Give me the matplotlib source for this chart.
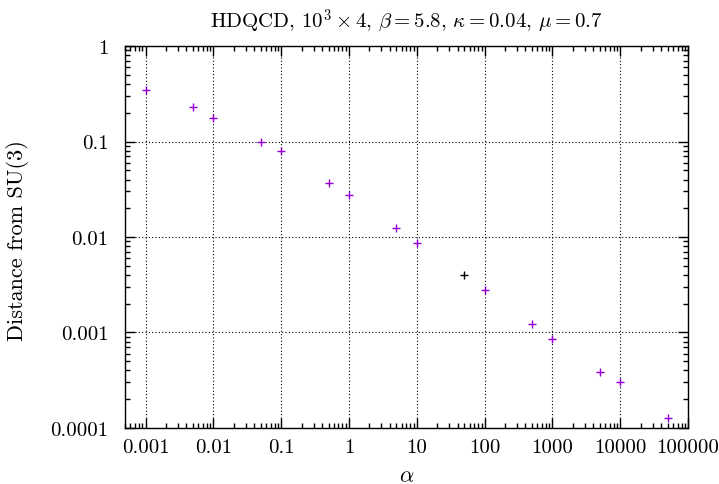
import matplotlib
matplotlib.use("Agg")
import matplotlib.pyplot as plt
import numpy as np

# data
alpha = [0.001, 0.005, 0.01, 0.05, 0.1, 0.5, 1, 5, 10, 50, 100, 500, 1000, 5000, 10000, 50000]
dist = [0.35, 0.23, 0.176, 0.099, 0.08, 0.0366, 0.0277, 0.0125, 0.0087, 0.004,
        0.00281, 0.00124, 0.00086, 0.00039, 0.0003, 0.000128]
colors = ['#9400d3'] * 9 + ['black'] + ['#9400d3'] * 6

xticks = [0.001, 0.01, 0.1, 1, 10, 100, 1000, 10000, 100000]
xlabels = ['0.001', '0.01', '0.1', '1', '10', '100', '1000', '10000', '100000']
yticks = [0.0001, 0.001, 0.01, 0.1, 1]
ylabels = ['0.0001', '0.001', '0.01', '0.1', '1']

plt.rcParams['font.family'] = 'serif'
plt.rcParams['font.serif'] = ['cmr10']
plt.rcParams['mathtext.fontset'] = 'cm'
plt.rcParams['axes.unicode_minus'] = False
plt.rcParams['axes.formatter.use_mathtext'] = True

fig = plt.figure(figsize=(7.19, 4.85), dpi=100)
ax = fig.add_axes([0.174, 0.1155, 0.783, 0.7875])

for x, y, c in zip(alpha, dist, colors):
    ax.plot(x, y, marker='+', color=c, markersize=6, mew=1, linestyle='none')

ax.set_xscale('log')
ax.set_yscale('log')
ax.set_xlim(0.0005, 100000)
ax.set_ylim(0.0001, 1)
ax.set_xticks(xticks)
ax.set_xticklabels(xlabels)
ax.set_yticks(yticks)
ax.set_yticklabels(ylabels)
ax.xaxis.set_minor_locator(matplotlib.ticker.LogLocator(base=10, subs=np.arange(2, 10), numticks=20))
ax.yaxis.set_minor_locator(matplotlib.ticker.LogLocator(base=10, subs=np.arange(2, 10), numticks=20))
ax.xaxis.set_minor_formatter(matplotlib.ticker.NullFormatter())
ax.yaxis.set_minor_formatter(matplotlib.ticker.NullFormatter())

ax.tick_params(which='both', direction='in', top=True, right=True, labelsize=15, width=1)
ax.tick_params(which='major', length=7)
ax.tick_params(which='major', axis='x', pad=7)
ax.tick_params(which='major', axis='y', pad=12)
ax.tick_params(which='minor', length=3.5)
for s in ax.spines.values():
    s.set_linewidth(1)

ax.grid(True, which='major', color='black', linestyle=(0, (1, 2)), linewidth=0.8)

# axis labels placed in figure coordinates
fig.text(0.565, 0.018, r'$\alpha$', fontsize=16, ha='center', va='center')
fig.text(0.024, 0.505, 'Distance from SU(3)', fontsize=16, rotation=90,
         ha='center', va='center')
ax.set_title(r'HDQCD, $10^3 \times 4$, $\beta = 5.8$, $\kappa = 0.04$, $\mu = 0.7$', fontsize=15, pad=14)

fig.savefig('out.png', dpi=100)
